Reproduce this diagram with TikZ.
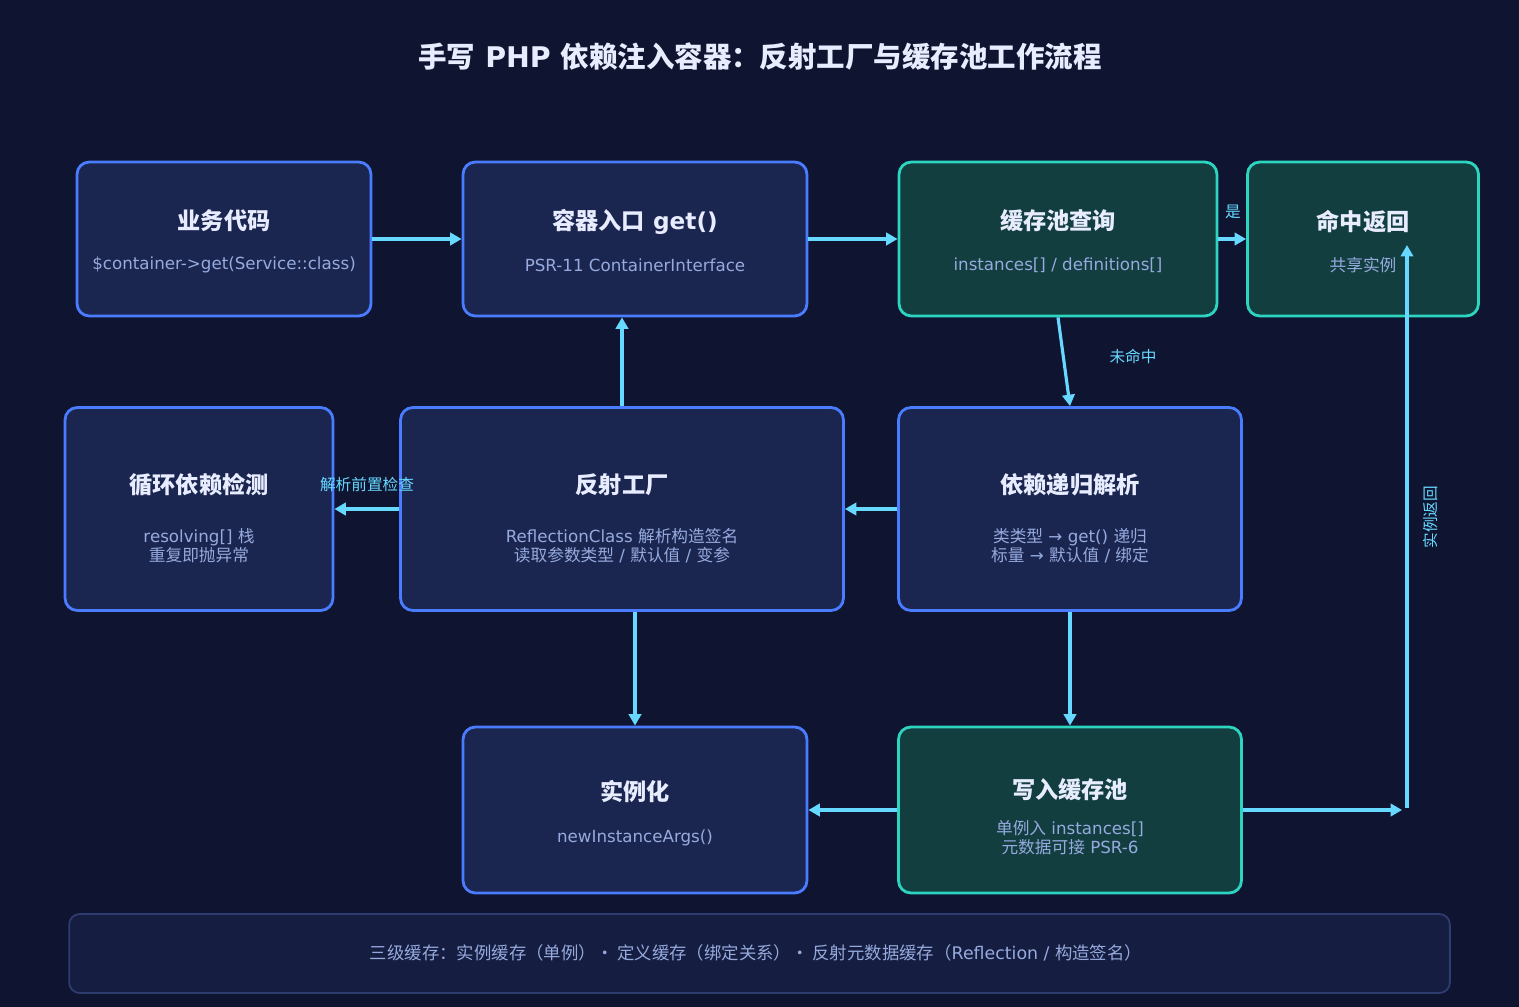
\documentclass[tikz,border=0pt]{standalone}
\usepackage{fontspec}
\setmainfont{DejaVu Sans}
\newfontfamily\cjk{Noto Sans CJK SC}
\usetikzlibrary{arrows.meta}
\definecolor{DIbg}{RGB}{15,20,48}
\definecolor{DIblue}{RGB}{74,124,255}
\definecolor{DIblueFill}{RGB}{27,38,80}
\definecolor{DIgreen}{RGB}{45,212,191}
\definecolor{DIgreenFill}{RGB}{18,62,64}
\definecolor{DIarrow}{RGB}{103,216,255}
\definecolor{DItitle}{RGB}{232,236,255}
\definecolor{DIsub}{RGB}{150,170,222}
\definecolor{DInoteFill}{RGB}{21,29,64}
\definecolor{DInoteLine}{RGB}{46,60,112}

\begin{document}
\begin{tikzpicture}[x=0.02cm, y=-0.02cm,
    stage/.style={rectangle, rounded corners=7pt, line width=1.6pt},
    bluebox/.style={stage, draw=DIblue, fill=DIblueFill},
    greenbox/.style={stage, draw=DIgreen, fill=DIgreenFill},
    ttl/.style={text=DItitle, font=\fontsize{13.2}{16}\selectfont\bfseries},
    sub/.style={text=DIsub, align=center, font=\fontsize{9.5}{11}\selectfont},
    lbl/.style={text=DIarrow, font=\fontsize{8.9}{10}\selectfont},
    arr/.style={-{Triangle[length=6.5pt, width=7pt]}, draw=DIarrow, line width=1.8pt}
  ]
  \fill[DIbg] (0,0) rectangle (1519,1007);

  % heading
  \node[text=DItitle, font=\fontsize{16.2}{19}\selectfont\bfseries] (head) at (760,57)
       {{\cjk 手写} PHP {\cjk 依赖注入容器：反射工厂与缓存池工作流程}};

  % top row
  \node[bluebox, minimum width=5.88cm, minimum height=3.08cm] (biz) at (224,239) {};
  \node[ttl] at (224,221) {\cjk 业务代码};
  \node[sub] at (224,265) {\$container->get(Service::class)};

  \node[bluebox, minimum width=6.88cm, minimum height=3.08cm] (entry) at (635,239) {};
  \node[ttl] at (635,222) {{\cjk 容器入口} get()};
  \node[sub] at (635,265) {PSR-11 ContainerInterface};

  \node[greenbox, minimum width=6.36cm, minimum height=3.08cm] (look) at (1058,239) {};
  \node[ttl] at (1058,221) {\cjk 缓存池查询};
  \node[sub] at (1058,265) {instances[] / definitions[]};

  \node[greenbox, minimum width=4.62cm, minimum height=3.08cm] (hit) at (1363,239) {};
  \node[ttl] at (1363,222) {\cjk 命中返回};
  \node[sub] at (1363,265) {\cjk 共享实例};

  % middle row
  \node[bluebox, minimum width=5.36cm, minimum height=4.06cm] (cycle) at (199,509) {};
  \node[ttl] at (199,485) {\cjk 循环依赖检测};
  \node[sub] at (199,546) {resolving[] {\cjk 栈}\\{\cjk 重复即抛异常}};

  \node[bluebox, minimum width=8.86cm, minimum height=4.06cm] (fac) at (622,509) {};
  \node[ttl] at (622,485) {\cjk 反射工厂};
  \node[sub] at (622,546) {ReflectionClass {\cjk 解析构造签名}\\{\cjk 读取参数类型} / {\cjk 默认值} / {\cjk 变参}};

  \node[bluebox, minimum width=6.86cm, minimum height=4.06cm] (dep) at (1070,509) {};
  \node[ttl] at (1070,485) {\cjk 依赖递归解析};
  \node[sub] at (1070,546) {{\cjk 类类型} → get() {\cjk 递归}\\{\cjk 标量} → {\cjk 默认值} / {\cjk 绑定}};

  % bottom row
  \node[bluebox, minimum width=6.88cm, minimum height=3.32cm] (inst) at (635,810) {};
  \node[ttl] at (635,791) {\cjk 实例化};
  \node[sub] at (635,838) {newInstanceArgs()};

  \node[greenbox, minimum width=6.86cm, minimum height=3.32cm] (store) at (1070,810) {};
  \node[ttl] at (1070,790) {\cjk 写入缓存池};
  \node[sub] at (1070,838) {{\cjk 单例入} instances[]\\{\cjk 元数据可接} PSR-6};

  % footer note
  \node[rectangle, rounded corners=6pt, draw=DInoteLine, fill=DInoteFill, line width=1pt,
        minimum width=27.62cm, minimum height=1.58cm] (note) at (759.5,953.5) {};
  \node[sub, font=\fontsize{9.9}{11}\selectfont] at (756,953) {{\cjk 三级缓存：实例缓存（单例）· 定义缓存（绑定关系）· 反射元数据缓存（}Reflection / {\cjk 构造签名）}};

  \coordinate (ret) at (1407,810);
  \coordinate (hitin) at (1407,245);

  % connectors
  \draw[arr] (biz) -- (entry);
  \draw[arr] (entry) -- (look);
  \draw[arr] (look) -- (hit);
  \node[lbl] at (1233,212) {\cjk 是};
  \draw[arr] (look.south) -- (dep.north);
  \node[lbl] at (1133,356) {\cjk 未命中};
  \draw[arr] (dep) -- (fac);
  \draw[arr] (fac.north) -- (fac.north |- entry.south);
  \draw[arr] (fac) -- (cycle);
  \node[lbl] at (367,485) {\cjk 解析前置检查};
  \draw[arr] (fac.south -| inst) -- (inst.north);
  \draw[arr] (dep) -- (store);
  \draw[arr] (store) -- (inst);
  \draw[arr, shorten >=2.8pt] (store) -- (ret);
  \draw[arr] ([yshift=1pt]ret) -- (hitin);
  \node[lbl, rotate=90] at (1430,517) {\cjk 实例返回};
\end{tikzpicture}
\end{document}
